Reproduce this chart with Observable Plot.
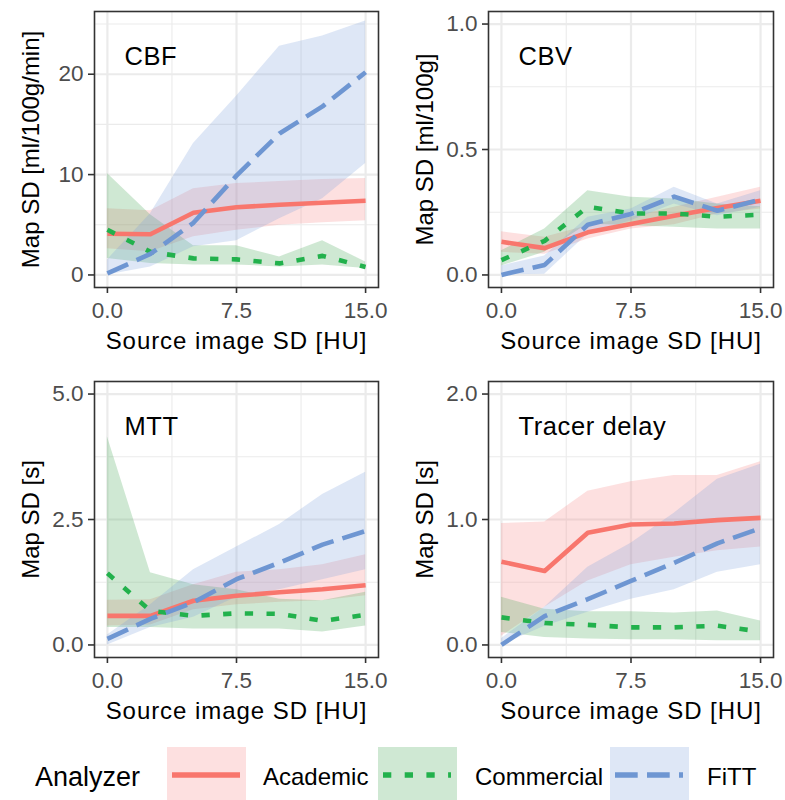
<!DOCTYPE html>
<html>
<head>
<meta charset="utf-8">
<script src="https://cdn.jsdelivr.net/npm/d3@7"></script>
<script src="https://cdn.jsdelivr.net/npm/@observablehq/plot@0.6"></script>
<style>
  html, body { margin: 0; padding: 0; background: white; }
  #chart { position: relative; width: 785px; height: 800px; background: white; overflow: hidden; }
  .cell { position: absolute; }
  svg text { font-family: "Liberation Sans", Arial, sans-serif; }
  .xtitle text { letter-spacing: 0.95px; }
  .plabel text { letter-spacing: 0.6px; }
</style>
</head>
<body>
<div id="chart"></div>
<script>
// ---------- data ----------
const sourceSD = [0, 2.5, 5, 7.5, 10, 12.5, 15];
const analyzers = ["Academic", "Commercial", "FiTT"];

// CBF [ml/100g/min]
const cbfAcademic = [4.1, 4.05, 6.2, 6.75, 7.0, 7.2, 7.4];
const cbfAcademicLo = [2.6, 2.3, 3.8, 4.45, 4.95, 5.2, 5.4];
const cbfAcademicHi = [6.6, 6.4, 8.6, 9.1, 9.3, 9.5, 9.6];
const cbfCommercial = [4.5, 2.3, 1.65, 1.55, 1.15, 1.9, 0.8];
const cbfCommercialLo = [1.65, 1.15, 1.0, 1.0, 0.8, 1.0, 0.65];
const cbfCommercialHi = [10.1, 6.0, 2.9, 2.9, 1.8, 3.4, 1.3];
const cbfFiTT = [0.15, 2.1, 5.2, 9.9, 14.1, 16.8, 20.2];
const cbfFiTTLo = [0, 0.8, 2.8, 3.4, 5.6, 7.6, 11.1];
const cbfFiTTHi = [1.5, 6.1, 13.1, 17.8, 22.8, 23.8, 25.3];

// CBV [ml/100g]
const cbvAcademic = [0.132, 0.107, 0.17, 0.203, 0.236, 0.267, 0.296];
const cbvAcademicLo = [0.09, 0.083, 0.143, 0.183, 0.2, 0.243, 0.263];
const cbvAcademicHi = [0.172, 0.15, 0.196, 0.23, 0.27, 0.31, 0.35];
const cbvCommercial = [0.059, 0.136, 0.272, 0.245, 0.245, 0.232, 0.24];
const cbvCommercialLo = [0.036, 0.09, 0.203, 0.196, 0.19, 0.183, 0.183];
const cbvCommercialHi = [0.096, 0.183, 0.336, 0.31, 0.303, 0.283, 0.272];
const cbvFiTT = [0.0, 0.04, 0.2, 0.243, 0.312, 0.256, 0.3];
const cbvFiTTLo = [0, 0.003, 0.163, 0.216, 0.283, 0.236, 0.27];
const cbvFiTTHi = [0.036, 0.076, 0.23, 0.263, 0.35, 0.283, 0.336];

// MTT [s]
const mttAcademic = [0.58, 0.58, 0.88, 0.98, 1.05, 1.11, 1.19];
const mttAcademicLo = [0.38, 0.4, 0.7, 0.8, 0.85, 0.88, 0.98];
const mttAcademicHi = [0.89, 0.9, 1.2, 1.45, 1.5, 1.6, 1.8];
const mttCommercial = [1.43, 0.68, 0.58, 0.63, 0.62, 0.48, 0.6];
const mttCommercialLo = [0.35, 0.35, 0.32, 0.32, 0.32, 0.26, 0.38];
const mttCommercialHi = [4.15, 1.44, 1.2, 1.1, 0.91, 0.88, 1.05];
const mttFiTT = [0.12, 0.52, 0.85, 1.31, 1.64, 2.0, 2.27];
const mttFiTTLo = [0, 0.35, 0.55, 0.95, 1.1, 1.3, 1.5];
const mttFiTTHi = [0.2, 0.8, 1.5, 1.95, 2.4, 3.0, 3.44];

// Tracer delay [s]
const tdAcademic = [0.664, 0.59, 0.894, 0.96, 0.968, 0.995, 1.013];
const tdAcademicLo = [0.07, 0.3, 0.51, 0.64, 0.7, 0.75, 0.78];
const tdAcademicHi = [0.968, 0.98, 1.225, 1.3, 1.35, 1.35, 1.46];
const tdCommercial = [0.22, 0.175, 0.16, 0.14, 0.14, 0.153, 0.106];
const tdCommercialLo = [0.1, 0.06, 0.048, 0.042, 0.042, 0.034, 0.034];
const tdCommercialHi = [0.38, 0.285, 0.265, 0.265, 0.254, 0.27, 0.19];
const tdFiTT = [0.0, 0.23, 0.365, 0.51, 0.655, 0.81, 0.93];
const tdFiTTLo = [0, 0.15, 0.26, 0.365, 0.44, 0.58, 0.64];
const tdFiTTHi = [0.05, 0.3, 0.62, 0.81, 1.05, 1.32, 1.44];

// axes
const xTicks = [0, 7.5, 15];
const xTickLabels = ["0.0", "7.5", "15.0"];
const xMinor = [3.75, 11.25];
const xTitle = "Source image SD [HU]";

const panelNames = ["CBF", "CBV", "MTT", "Tracer delay"];
const yTitles = ["Map SD [ml/100g/min]", "Map SD [ml/100g]", "Map SD [s]", "Map SD [s]"];
const yLimits = [[0, 25], [0, 1], [0, 5], [0, 2]];
const yTicks = [[0, 10, 20], [0, 0.5, 1], [0, 2.5, 5], [0, 1, 2]];
const yTickLabels = [["0", "10", "20"], ["0.0", "0.5", "1.0"], ["0.0", "2.5", "5.0"], ["0.0", "1.0", "2.0"]];
const yMinor = [[5, 15, 25], [0.25, 0.75], [1.25, 3.75], [0.5, 1.5]];

// ---------- style ----------
const lineColors = ["#F8766D", "#22B14C", "#6E96D2"];
const ribbonColors = ["#F78383", "#3FA34F", "#7B9FDB"];
const ribbonOpacity = 0.25;
const dashes = [null, "8.3,13.4", "22.7,9.3"];
const font = "Liberation Sans, Arial, sans-serif";

function rows(means, los, his) {
  const out = [];
  analyzers.forEach((a, k) => {
    sourceSD.forEach((x, i) => out.push({x, mean: means[k][i], lo: los[k][i], hi: his[k][i], analyzer: a}));
  });
  return out;
}

const panelData = [
  rows([cbfAcademic, cbfCommercial, cbfFiTT], [cbfAcademicLo, cbfCommercialLo, cbfFiTTLo], [cbfAcademicHi, cbfCommercialHi, cbfFiTTHi]),
  rows([cbvAcademic, cbvCommercial, cbvFiTT], [cbvAcademicLo, cbvCommercialLo, cbvFiTTLo], [cbvAcademicHi, cbvCommercialHi, cbvFiTTHi]),
  rows([mttAcademic, mttCommercial, mttFiTT], [mttAcademicLo, mttCommercialLo, mttFiTTLo], [mttAcademicHi, mttCommercialHi, mttFiTTHi]),
  rows([tdAcademic, tdCommercial, tdFiTT], [tdAcademicLo, tdCommercialLo, tdFiTTLo], [tdAcademicHi, tdCommercialHi, tdFiTTHi])
];

const cells = [
  {left: 0, top: 0, width: 392, ml: 94, mr: 14},
  {left: 392, top: 0, width: 393, ml: 96, mr: 12},
  {left: 0, top: 370, width: 392, ml: 94, mr: 14},
  {left: 392, top: 370, width: 393, ml: 96, mr: 12}
];

const chart = document.getElementById("chart");

panelData.forEach((data, p) => {
  const c = cells[p];
  const [lo, hi] = yLimits[p];
  const ex = (hi - lo) * 0.05;
  const yt = yTicks[p], yl = yTickLabels[p];
  const plot = Plot.plot({
    width: c.width,
    height: 370,
    marginLeft: c.ml,
    marginRight: c.mr,
    marginTop: 11,
    marginBottom: 83,
    style: {fontFamily: font, background: "white", overflow: "visible"},
    x: {domain: [-0.75, 15.75], label: null},
    y: {domain: [lo - ex, hi + ex], label: null},
    color: {domain: analyzers, range: ribbonColors},
    marks: [
      Plot.ruleX(xMinor, {stroke: "#EBEBEB", strokeWidth: 1.1}),
      Plot.ruleY(yMinor[p], {stroke: "#EBEBEB", strokeWidth: 1.1}),
      Plot.ruleX(xTicks, {stroke: "#EBEBEB", strokeWidth: 2.2}),
      Plot.ruleY(yt, {stroke: "#EBEBEB", strokeWidth: 2.2}),
      Plot.areaY(data, {x: "x", y1: "lo", y2: "hi", fill: "analyzer", fillOpacity: ribbonOpacity}),
      ...analyzers.map((a, k) => Plot.line(data.filter(d => d.analyzer === a), {
        x: "x", y: "mean", stroke: lineColors[k], strokeWidth: 4.6,
        strokeDasharray: dashes[k], strokeLinecap: "butt", strokeLinejoin: "round"
      })),
      Plot.frame({stroke: "#333333", strokeWidth: 1.6}),
      Plot.axisX(xTicks, {
        tickFormat: d => xTickLabels[xTicks.indexOf(d)], tickSize: 6, tickPadding: 9,
        stroke: "#333333", strokeWidth: 1.6, fill: "#4D4D4D", fontSize: 22.5, label: null
      }),
      Plot.axisY(yt, {
        tickFormat: d => yl[yt.indexOf(d)], tickSize: 6, tickPadding: 5,
        stroke: "#333333", strokeWidth: 1.6, fill: "#4D4D4D", fontSize: 22.5, label: null
      }),
      Plot.text([panelNames[p]], {
        text: d => d, frameAnchor: "top-left", dx: 30, dy: 53, className: "plabel",
        textAnchor: "start", lineAnchor: "bottom", fontSize: 25.5, fill: "black"
      }),
      Plot.text([xTitle], {
        text: d => d, frameAnchor: "bottom", dy: 61, className: "xtitle",
        textAnchor: "middle", lineAnchor: "bottom", fontSize: 24, fill: "black"
      }),
      Plot.text([yTitles[p]], {
        text: d => d, frameAnchor: "left", dx: -56, rotate: -90,
        textAnchor: "middle", lineAnchor: "bottom", fontSize: 24, fill: "black"
      })
    ]
  });
  const div = document.createElement("div");
  div.className = "cell";
  div.style.left = c.left + "px";
  div.style.top = c.top + "px";
  div.appendChild(plot);
  chart.appendChild(div);
});

// ---------- legend ----------
const legendTitle = "Analyzer";
const legendPos = [
  {box: 167, text: 263},
  {box: 378, text: 475},
  {box: 610, text: 707}
];
const legend = d3.create("svg").attr("width", 785).attr("height", 60)
  .style("position", "absolute").style("left", "0px").style("top", "740px");
legend.append("text").attr("x", 35).attr("y", 46).attr("font-size", 27)
  .attr("font-family", font).attr("fill", "black").text(legendTitle);
analyzers.forEach((a, k) => {
  const pos = legendPos[k];
  legend.append("rect").attr("x", pos.box).attr("y", 7).attr("width", 79).attr("height", 60)
    .attr("fill", ribbonColors[k]).attr("fill-opacity", ribbonOpacity);
  const ln = legend.append("line").attr("x1", pos.box + 5).attr("x2", pos.box + 73)
    .attr("y1", 35).attr("y2", 35).attr("stroke", lineColors[k]).attr("stroke-width", 5.3);
  if (dashes[k]) ln.attr("stroke-dasharray", dashes[k]);
  legend.append("text").attr("x", pos.text).attr("y", 45).attr("font-size", 24)
    .attr("font-family", font).attr("fill", "black").text(a);
});
chart.appendChild(legend.node());
</script>
</body>
</html>
